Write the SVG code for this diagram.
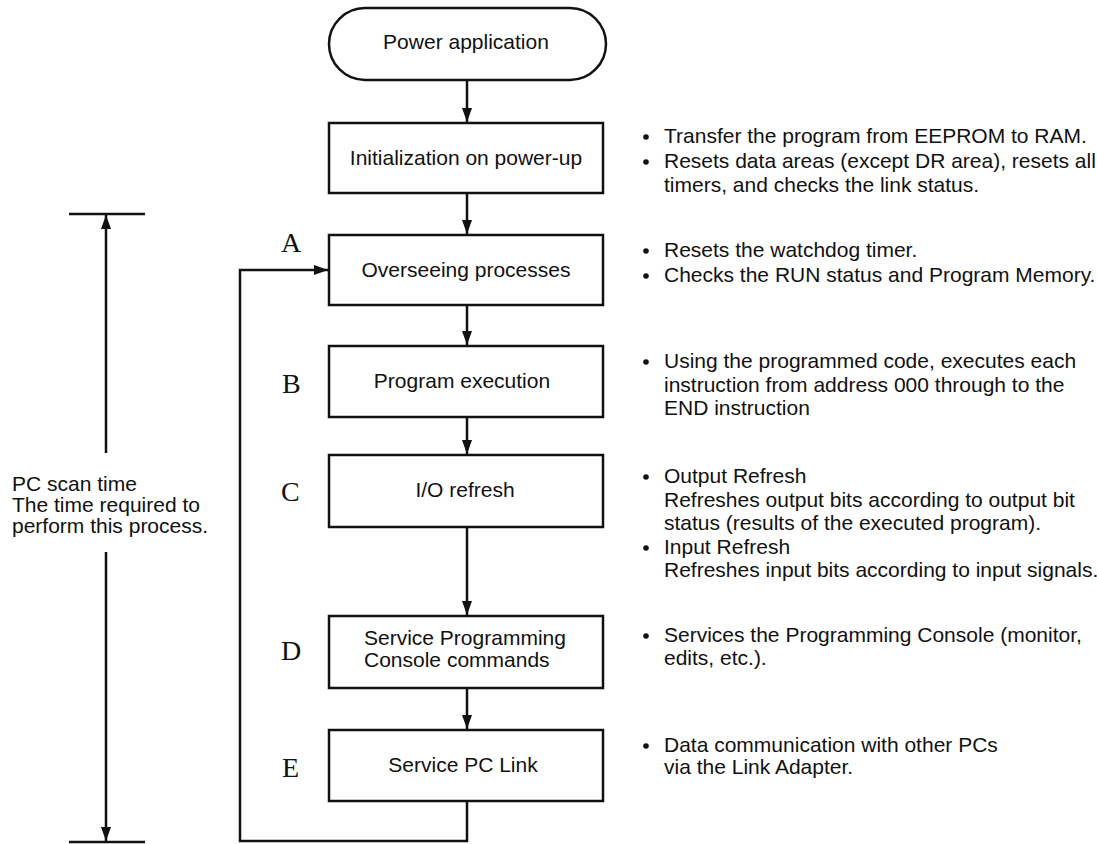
<svg xmlns="http://www.w3.org/2000/svg" width="1097" height="844" viewBox="0 0 1097 844">
<style>
.box{fill:#fff;stroke:#111;stroke-width:2.5}
.t{font-family:"Liberation Sans",Arial,sans-serif;font-size:21px;fill:#111}
.c{text-anchor:middle}
.lbl{font-family:"Liberation Serif","Times New Roman",serif;font-size:28px;fill:#111}
.ln{fill:none;stroke:#111;stroke-width:2.5}
.b{fill:#111}
</style>
<defs>
<marker id="ah" viewBox="0 0 10 10" refX="10" refY="5" markerWidth="10" markerHeight="10" markerUnits="userSpaceOnUse" orient="auto">
<path d="M0,0 L10,5 L0,10 Z" fill="#111"/>
</marker>
<marker id="ahl" viewBox="0 0 14 10" refX="14" refY="5" markerWidth="14" markerHeight="10" markerUnits="userSpaceOnUse" orient="auto">
<path d="M0,0 L14,5 L0,10 Z" fill="#111"/>
</marker>
</defs>
<rect width="1097" height="844" fill="#fff"/>

<g id="connectors">
<line class="ln" x1="467" y1="80" x2="467" y2="122" marker-end="url(#ahl)"/>
<line class="ln" x1="467" y1="193" x2="467" y2="234" marker-end="url(#ahl)"/>
<line class="ln" x1="467" y1="305" x2="467" y2="345" marker-end="url(#ahl)"/>
<line class="ln" x1="467" y1="417" x2="467" y2="454" marker-end="url(#ahl)"/>
<line class="ln" x1="467" y1="527" x2="467" y2="615" marker-end="url(#ahl)"/>
<line class="ln" x1="467" y1="688" x2="467" y2="729" marker-end="url(#ahl)"/>
<polyline class="ln" points="467,801 467,841 240,841 240,270 328,270" marker-end="url(#ahl)"/>
</g>

<g id="scan-time">
<line class="ln" x1="69" y1="214" x2="145" y2="214"/>
<line class="ln" x1="69" y1="842" x2="145" y2="842"/>
<line class="ln" x1="106" y1="453" x2="106" y2="215" marker-end="url(#ahl)"/>
<line class="ln" x1="106" y1="552" x2="106" y2="841" marker-end="url(#ahl)"/>
<text class="t" x="12" y="491">PC scan time</text>
<text class="t" x="12" y="512">The time required to</text>
<text class="t" x="12" y="533">perform this process.</text>
</g>

<g id="power">
<rect class="box" x="329" y="8" width="277" height="72" rx="36" ry="36"/>
<text class="t c" x="466" y="49">Power application</text>
</g>

<g id="init">
<rect class="box" x="329" y="123" width="274" height="70"/>
<text class="t c" x="466" y="165">Initialization on power-up</text>
<circle class="b" cx="646" cy="137" r="2.8"/>
<text class="t" x="664" y="143">Transfer the program from EEPROM to RAM.</text>
<circle class="b" cx="646" cy="162" r="2.8"/>
<text class="t" x="664" y="168">Resets data areas (except DR area), resets all</text>
<text class="t" x="664" y="192">timers, and checks the link status.</text>
</g>

<g id="A">
<text class="lbl" x="281" y="252">A</text>
<rect class="box" x="329" y="235" width="274" height="70"/>
<text class="t c" x="466" y="277">Overseeing processes</text>
<circle class="b" cx="646" cy="251" r="2.8"/>
<text class="t" x="664" y="257">Resets the watchdog timer.</text>
<circle class="b" cx="646" cy="276" r="2.8"/>
<text class="t" x="664" y="282">Checks the RUN status and Program Memory.</text>
</g>

<g id="B">
<text class="lbl" x="282" y="393">B</text>
<rect class="box" x="329" y="346" width="274" height="71"/>
<text class="t c" x="462" y="388">Program execution</text>
<circle class="b" cx="646" cy="362" r="2.8"/>
<text class="t" x="664" y="368">Using the programmed code, executes each</text>
<text class="t" x="664" y="392">instruction from address 000 through to the</text>
<text class="t" x="664" y="415">END instruction</text>
</g>

<g id="C">
<text class="lbl" x="281" y="501">C</text>
<rect class="box" x="329" y="455" width="274" height="72"/>
<text class="t c" x="465" y="497">I/O refresh</text>
<circle class="b" cx="646" cy="477" r="2.8"/>
<text class="t" x="664" y="483">Output Refresh</text>
<text class="t" x="664" y="507">Refreshes output bits according to output bit</text>
<text class="t" x="664" y="530">status (results of the executed program).</text>
<circle class="b" cx="646" cy="548" r="2.8"/>
<text class="t" x="664" y="554">Input Refresh</text>
<text class="t" x="664" y="577">Refreshes input bits according to input signals.</text>
</g>

<g id="D">
<text class="lbl" x="281" y="660">D</text>
<rect class="box" x="329" y="616" width="274" height="72"/>
<text class="t" x="364" y="645">Service Programming</text>
<text class="t" x="364" y="667">Console commands</text>
<circle class="b" cx="646" cy="636" r="2.8"/>
<text class="t" x="664" y="642">Services the Programming Console (monitor,</text>
<text class="t" x="664" y="665">edits, etc.).</text>
</g>

<g id="E">
<text class="lbl" x="282" y="777">E</text>
<rect class="box" x="329" y="730" width="274" height="71"/>
<text class="t c" x="463" y="772">Service PC Link</text>
<circle class="b" cx="646" cy="746" r="2.8"/>
<text class="t" x="664" y="752">Data communication with other PCs</text>
<text class="t" x="664" y="774">via the Link Adapter.</text>
</g>
</svg>
